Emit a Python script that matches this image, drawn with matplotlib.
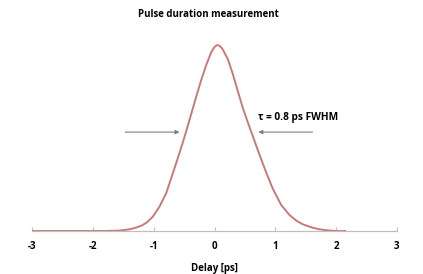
import numpy as np
import matplotlib.pyplot as plt

plt.rcParams['font.family'] = ['Open Sans', 'DejaVu Sans']

# curve (delay in ps, normalised signal)
delay = [-3.0, -2.5, -2.0, -1.8, -1.564, -1.4, -1.28, -1.181, -1.1, -1.016,
         -0.906, -0.795, -0.687, -0.576, -0.49, -0.412, -0.301, -0.219, -0.137,
         -0.054, 0.0, 0.04, 0.08, 0.13, 0.219, 0.301, 0.384, 0.466, 0.548, 0.631,
         0.741, 0.851, 0.96, 1.098, 1.235, 1.35, 1.454, 1.6, 1.729, 1.87, 2.004, 2.15]
signal = [0.0, 0.0, 0.0, 0.0, 0.002, 0.009, 0.019, 0.032, 0.05, 0.077,
          0.131, 0.203, 0.31, 0.42, 0.51, 0.597, 0.723, 0.812, 0.892,
          0.962, 0.99, 1.0, 0.997, 0.98, 0.925, 0.845, 0.752, 0.662, 0.585, 0.51,
          0.41, 0.315, 0.227, 0.14, 0.086, 0.055, 0.036, 0.019, 0.009, 0.003, 0.0, 0.0]

xticks = [-3, -2, -1, 0, 1, 2, 3]
label = "\u03c4 = 0.8 ps FWHM"

fig = plt.figure(figsize=(4.23, 2.74), dpi=100)
ax = fig.add_axes((0.0764, 0.157, 0.8614, 0.715))

ax.plot(delay, signal, color="#c87a78", lw=1.4, solid_joinstyle="round")

ax.set_xlim(-3, 3)
ax.set_ylim(0, 1.054)
for s in ("left", "right", "top"):
    ax.spines[s].set_visible(False)
ax.spines["bottom"].set_color("#bfbfbf")
ax.spines["bottom"].set_linewidth(0.9)
ax.set_yticks([])
ax.set_xticks(xticks)
ax.set_xticklabels([str(t) for t in xticks], fontweight="bold", fontsize=7)
ax.tick_params(axis="x", direction="in", length=3, color="#bfbfbf", pad=7)

ax.set_xlabel("Delay [ps]", fontweight="bold", fontsize=7, labelpad=8)
fig.text(0.492, 0.948, "Pulse duration measurement", ha="center", va="center",
         fontweight="bold", fontsize=7)

arrow = dict(arrowstyle="-|>", color="#808080", lw=0.8, mutation_scale=6)
ax.annotate("", xy=(-0.53, 0.532), xytext=(-1.515, 0.532), arrowprops=arrow)
ax.annotate("", xy=(0.675, 0.532), xytext=(1.66, 0.532), arrowprops=arrow)
ax.text(0.71, 0.613, label, fontweight="bold", fontsize=7.3, va="center")

fig.savefig("out.png", dpi=100)
